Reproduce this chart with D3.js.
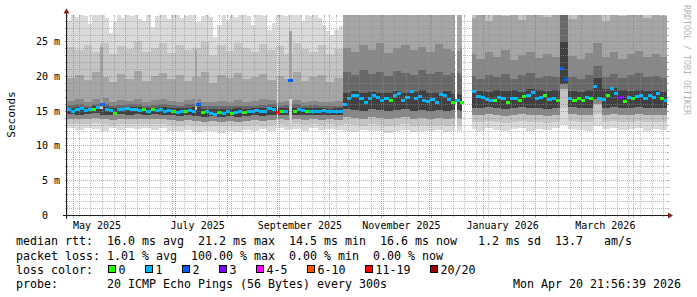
<!DOCTYPE html>
<html><head><meta charset="utf-8">
<script src="https://cdn.jsdelivr.net/npm/d3@7"></script>
<style>
html,body{margin:0;padding:0;background:#fff;}
svg{display:block;}
text{font-family:"DejaVu Sans Mono",monospace;white-space:pre;}
</style></head><body>
<svg id="chart" width="697" height="297"></svg>
<script>
// ---------------- data ----------------
const timeStart = "2025-04-26T19:30:00Z";
const timeEnd = "2026-04-20T22:00:00Z";
const yMax = 28.9;
const yTicks = [0, 5, 10, 15, 20, 25];
const yTickLabels = ["0  ", "5 m", "10 m", "15 m", "20 m", "25 m"];
const xLabels = ["May 2025", "July 2025", "September 2025", "November 2025", "January 2026", "March 2026"];
const xLabelDates = ["2025-05-14T18:00:00Z", "2025-07-14T00:00:00Z", "2025-09-13T06:00:00Z", "2025-11-13T00:00:00Z", "2026-01-12T12:00:00Z", "2026-03-15T00:00:00Z"];

// median rtt (ms), one value per 60 h
const medianStepHours = 60;
const median = [
15.3,15.0,15.2,15.4,15.1,15.3,15.2,15.5,15.9,15.3,
15.1,14.6,15.2,15.3,15.4,15.2,15.3,15.1,15.2,15.0,
15.2,15.1,15.2,15.0,15.1,15.0,14.8,15.0,14.9,15.1,
15.0,15.9,14.8,14.9,14.7,14.5,14.8,14.7,14.9,14.6,
14.8,14.9,14.8,15.0,14.9,15.1,14.9,15.0,15.4,15.3,
14.8,15.0,14.9,19.5,15.0,15.2,15.1,14.9,15.0,14.9,
15.0,15.1,15.0,14.9,15.0,14.9,15.9,16.8,17.2,17.3,
16.8,16.2,16.9,17.2,17.0,16.5,16.9,16.5,17.2,17.5,
16.6,17.0,17.9,16.9,17.1,16.5,16.4,16.7,16.3,17.4,
17.2,16.7,16.2,16.6,16.2,null,null,17.9,17.1,17.0,
16.7,16.5,16.6,17.0,16.8,16.2,16.9,16.8,16.6,17.1,
17.2,17.7,16.9,17.0,17.2,16.7,16.8,16.6,21.2,19.6,
16.8,16.5,16.9,16.6,17.0,16.8,18.5,16.9,16.7,17.3,
18.3,17.6,17.0,16.4,17.0,16.9,17.1,17.2,16.9,17.2,
17.0,17.6,16.8,16.6];
// lost pings (of 20) for each median value
const lossCount = [
1,1,1,1,1,1,0,1,2,1,
1,0,1,1,1,1,1,1,0,1,
0,1,1,1,1,0,1,1,0,1,
1,2,0,1,1,1,0,1,1,0,
1,1,0,1,1,1,1,1,1,1,
12,0,1,2,0,1,1,0,1,1,
1,1,1,1,1,1,1,1,1,1,
1,1,1,1,1,1,1,0,1,1,
1,1,1,1,1,1,1,1,1,1,
1,1,0,1,0,null,null,1,1,1,
1,1,0,1,1,0,1,1,0,0,
1,1,1,1,0,1,1,0,2,2,
1,0,0,0,1,0,1,1,1,0,
1,1,3,0,1,0,1,1,1,1,
1,1,0,1];

// slowest ping (ms), one value per 60 h
const smokeMax = [
28.2,29.2,28.6,29.2,28.8,27.6,29.2,28.9,29.2,28.5,
26.3,27.9,29.2,28.4,29.2,28.8,29.2,28.3,28.1,29.2,
27.2,28.7,29.2,28.9,28.3,29.2,29.2,28.4,28.8,29.2,
29.2,27.9,28.8,29.2,28.6,25.7,27.4,29.2,28.2,29.2,
28.6,29.2,29.2,28.7,27.5,28.9,29.2,28.8,26.7,27.8,
29.2,29.2,28.7,29.2,28.9,29.2,28.1,29.2,28.8,29.2,
28.5,27.4,26.6,26.0,26.8,27.3,
29.5,29.5,29.5,29.5,29.5,29.5,29.5,29.5,29.5,29.5,29.5,29.5,29.5,29.5,29.5,
29.5,29.5,29.5,29.5,29.5,29.5,29.5,29.5,29.5,29.5,29.5,29.5,29.5,29.5,
29.5,29.5,29.5,29.5,29.5,29.5,29.5,29.5,29.5,29.5,29.5,29.5,29.5,29.5,29.5,29.5,29.5,
29.5,29.5,29.5,29.5,29.5,29.5,29.5,29.5,29.5,29.5,29.5,29.5,29.5,29.5,29.5,29.5,
29.5,29.5,29.5,29.5,29.5,29.5,29.5,29.5,29.5,29.5,29.5,29.5,29.5,29.5,29.5,29.5];

// other ranked ping rtts (ms), one value per 120 h
const smokeStepHours = 120;
const smokeP18 = [
24.3,23.8,24.6,23.5,24.9,23.2,24.4,24.0,25.2,23.6,24.1,24.8,23.4,24.6,23.9,24.2,25.0,23.1,24.5,23.7,24.9,24.1,23.5,24.7,23.9,24.4,23.3,24.8,24.0,23.6,24.5,23.2,24.0,
29.5,29.5,29.5,29.5,29.5,29.5,29.5,29.5,29.5,29.5,29.5,29.5,29.5,29.5,29.5,
29.5,29.5,29.5,29.5,29.5,29.5,29.5,29.5,29.5,29.5,29.5,29.5,29.5,29.5,29.5,29.5,29.5,29.5,29.5,29.5,29.5,29.5,29.5,29.5];
const smokeP16 = [
19.8,20.3,19.5,20.6,19.9,19.2,20.4,19.7,20.8,19.4,20.1,20.5,19.6,20.2,19.3,20.0,20.7,19.1,20.3,19.8,20.5,19.6,19.9,20.4,19.5,20.1,19.7,20.6,19.4,20.0,20.3,19.2,19.8,
29.5,29.5,29.5,29.5,29.5,29.5,29.5,29.5,29.5,29.5,29.5,29.5,29.5,29.5,29.5,
28.4,29.5,28.0,29.5,28.8,29.5,28.2,29.5,29.5,28.6,29.5,29.5,28.3,29.5,28.9,29.5,28.1,29.5,28.7,29.5,29.5,28.4,29.5,28.8];
const smokeP14 = [
16.5,16.7,16.4,16.8,16.9,16.3,16.6,16.5,16.8,16.4,16.6,16.7,16.5,16.4,16.6,16.8,16.3,16.4,16.5,16.3,16.6,16.4,16.5,16.7,16.6,16.4,16.5,16.6,16.4,16.5,16.3,16.4,16.5,
24.2,23.6,24.5,23.9,24.8,23.4,24.1,24.6,23.8,24.3,23.5,24.7,24.0,23.7,24.2,
23.2,22.6,23.5,22.9,23.8,22.4,23.1,23.6,22.7,23.3,22.8,29.5,23.0,22.5,23.4,24.8,22.9,23.5,22.6,23.2,23.7,22.8,23.3,22.9];
const smokeP13 = [
15.9,16.0,15.8,16.1,16.0,15.8,15.9,16.0,16.1,15.8,15.9,16.0,15.9,15.8,16.0,16.1,15.7,15.7,15.8,15.7,15.8,15.7,15.8,15.9,16.0,15.8,15.9,16.0,15.8,15.9,15.8,15.7,15.8,
20.6,20.2,20.9,20.4,20.7,20.1,20.8,20.5,20.3,20.9,20.4,20.6,20.2,20.5,20.3,
20.1,19.7,20.3,19.9,20.4,19.6,20.2,20.5,19.8,20.1,20.0,29.5,19.9,19.7,20.3,21.5,20.0,20.4,19.8,20.2,20.5,19.9,20.1,19.8];
const smokeP12 = [
15.5,15.6,15.5,15.7,15.6,15.4,15.5,15.6,15.6,15.5,15.5,15.6,15.4,15.4,15.5,15.6,15.3,15.3,15.3,15.3,15.4,15.3,15.4,15.5,15.6,15.4,15.5,15.5,15.4,15.5,15.4,15.3,15.4,
17.7,17.9,17.6,17.8,17.6,17.7,17.9,17.6,17.8,18.0,17.7,17.6,17.9,17.5,17.4,
18.0,17.9,17.8,18.1,17.9,18.0,17.8,18.2,18.0,17.9,18.1,25.0,17.9,17.8,18.0,19.8,18.2,18.3,18.0,17.9,18.1,17.9,18.0,17.8];
const smokeP8 = [
14.6,14.5,14.6,14.7,14.5,14.4,14.6,14.5,14.6,14.5,14.6,14.5,14.4,14.3,14.4,14.3,14.2,14.3,14.2,14.3,14.2,14.3,14.4,14.3,14.4,14.5,14.4,14.5,14.4,14.5,14.4,14.5,14.4,
15.3,15.2,15.1,15.3,15.2,15.0,15.2,15.3,15.1,15.2,15.0,15.2,15.1,15.2,15.1,
15.5,15.4,15.6,15.5,15.3,15.5,15.6,15.4,15.5,15.3,15.5,19.0,15.6,15.5,15.4,16.8,15.5,15.6,15.4,15.5,15.6,15.4,15.5,15.5];
const smokeP5 = [
13.9,13.8,13.9,14.0,13.8,13.7,13.9,13.8,13.9,13.8,13.9,13.8,13.7,13.6,13.7,13.6,13.5,13.6,13.5,13.6,13.5,13.6,13.7,13.6,13.7,13.8,13.7,13.8,13.7,13.8,13.7,13.8,13.7,
14.1,14.0,13.9,14.1,14.0,13.8,14.0,14.1,13.9,14.0,13.8,14.0,13.9,14.0,13.9,
14.5,14.4,14.6,14.5,14.3,14.5,14.6,14.4,14.5,14.3,14.5,18.2,14.6,14.5,14.4,16.0,14.5,14.6,14.4,14.5,14.6,14.4,14.5,14.5];
const smokeP3 = [
13.2,13.1,13.2,13.3,13.1,13.0,13.2,13.1,13.2,13.1,13.2,13.1,13.0,12.9,13.0,12.9,12.8,12.9,12.8,12.9,12.8,12.9,13.0,12.9,13.0,13.1,13.0,13.1,13.0,13.1,13.0,13.1,13.0,
13.1,13.0,12.9,13.1,13.0,12.8,13.0,13.1,12.9,13.0,12.8,13.0,12.9,13.0,12.9,
13.5,13.4,13.6,13.5,13.3,13.5,13.6,13.4,13.5,13.3,13.5,15.5,13.6,13.5,13.4,14.6,13.5,13.6,13.4,13.5,13.6,13.4,13.5,13.5];
const smokeMin = [
12.5,12.3,12.6,12.4,12.2,12.5,12.3,12.6,12.4,12.5,12.3,12.6,12.2,12.1,12.3,12.0,12.2,12.1,11.9,12.2,12.0,12.3,12.1,12.4,12.2,12.5,12.3,12.4,12.2,12.5,12.3,12.4,12.3,
12.2,12.0,12.3,12.1,12.2,11.9,12.1,12.3,12.0,12.2,12.1,12.3,12.0,12.2,12.1,
12.4,12.2,12.5,12.3,12.1,12.4,12.5,12.2,12.4,12.3,12.5,13.0,12.4,12.3,12.2,12.8,12.4,12.5,12.3,12.4,12.5,12.2,12.4,12.3];

// short latency spikes
const spikeStart = ["2025-05-17T00:00:00Z", "2025-07-12T12:00:00Z", "2025-09-07T00:00:00Z"];
const spikeEnd   = ["2025-05-18T00:00:00Z", "2025-07-13T12:00:00Z", "2025-09-08T06:00:00Z"];
const spikeMin = [15.3, 15.2, 12.8];
const spikeLow = [15.6, 15.6, 16.8];
const spikeMax = [24.3, 23.9, 26.6];

// periods without data
const outageStart = ["2025-08-30T12:00:00Z", "2025-12-15T06:00:00Z", "2025-12-19T12:00:00Z"];
const outageEnd   = ["2025-08-31T00:00:00Z", "2025-12-16T00:00:00Z", "2025-12-25T00:00:00Z"];

const lossLabels = ["0", "1", "2", "3", "4-5", "6-10", "11-19", "20/20"];
const lossColors = ["#26ff00", "#00b8ff", "#0059ff", "#7e00ff", "#ff00ff", "#ff5500", "#ff0000", "#a10000"];

const statLines = [
  "median rtt:  16.0 ms avg  21.2 ms max  14.5 ms min  16.6 ms now   1.2 ms sd  13.7   am/s",
  "packet loss: 1.01 % avg  100.00 % max  0.00 % min  0.00 % now"
];
const lossTitle = "loss color:";
const probeLine = "probe:       20 ICMP Echo Pings (56 Bytes) every 300s";
const stampText = "Mon Apr 20 21:56:39 2026";
const yTitle = "Seconds";
const watermark = "RRDTOOL / TOBI OETIKER";

// ---------------- drawing ----------------
const t0 = new Date(timeStart), t1 = new Date(timeEnd);
const X0 = 67, X1 = 667, Y0 = 215, Y1 = 15;
const x = d3.scaleUtc().domain([t0, t1]).range([X0, X1]);
const y = d3.scaleLinear().domain([0, yMax]).range([Y0, Y1]);

const svg = d3.select("#chart");
svg.append("rect").attr("width", 697).attr("height", 297).attr("fill", "#fff");
svg.append("defs").append("clipPath").attr("id", "cv")
  .append("rect").attr("x", X0).attr("y", Y1).attr("width", X1 - X0).attr("height", Y0 - Y1);
const plot = svg.append("g").attr("clip-path", "url(#cv)").attr("shape-rendering", "crispEdges");

const area = d3.area().curve(d3.curveStepAfter)
  .x(d => x(d.t)).y0(d => y(d.lo)).y1(d => y(d.hi));
function drawBand(loArr, loStep, hiArr, hiStep, color) {
  // sample both series on the finer of the two time grids
  const step = Math.min(loStep, hiStep);
  const end = Math.min(loArr.length * loStep, hiArr.length * hiStep);
  const pts = [];
  for (let h = 0; h < end; h += step) {
    pts.push({t: d3.utcHour.offset(t0, h), lo: loArr[Math.floor(h / loStep)], hi: hiArr[Math.floor(h / hiStep)]});
  }
  const last = pts[pts.length - 1];
  pts.push({t: d3.utcHour.offset(t0, end), lo: last.lo, hi: last.hi});
  plot.append("path").attr("d", area(pts)).attr("fill", color);
}
drawBand(smokeMin, smokeStepHours, smokeMax, medianStepHours, "#dadada");
drawBand(smokeP3, smokeStepHours, smokeP18, smokeStepHours, "#c4c4c4");
drawBand(smokeP5, smokeStepHours, smokeP16, smokeStepHours, "#a6a6a6");
drawBand(smokeP5, smokeStepHours, smokeP14, smokeStepHours, "#888888");
drawBand(smokeP8, smokeStepHours, smokeP13, smokeStepHours, "#686868");
drawBand(smokeP8, smokeStepHours, smokeP12, smokeStepHours, "#404040");

// spikes
spikeStart.forEach((s, i) => {
  const xa = Math.floor(x(new Date(s))), xb = Math.ceil(x(new Date(spikeEnd[i])));
  plot.append("rect").attr("x", xa).attr("width", xb - xa)
    .attr("y", y(spikeMax[i])).attr("height", y(spikeMin[i]) - y(spikeMax[i])).attr("fill", "#d6d6d6");
  plot.append("rect").attr("x", xa).attr("width", xb - xa)
    .attr("y", y(spikeMax[i])).attr("height", y(spikeLow[i]) - y(spikeMax[i])).attr("fill", "#a2a2a2");
});

// outages
outageStart.forEach((s, i) => {
  const xa = Math.round(x(new Date(s))), xb = Math.max(xa + 1, Math.round(x(new Date(outageEnd[i]))));
  plot.append("rect").attr("x", xa).attr("width", xb - xa).attr("y", Y1).attr("height", Y0 - Y1).attr("fill", "#fff");
});

// median
function lossColor(c) {
  if (c <= 0) return lossColors[0];
  if (c === 1) return lossColors[1];
  if (c === 2) return lossColors[2];
  if (c === 3) return lossColors[3];
  if (c <= 5) return lossColors[4];
  if (c <= 10) return lossColors[5];
  if (c <= 19) return lossColors[6];
  return lossColors[7];
}
const medDates = d3.range(median.length + 1).map(i => d3.utcHour.offset(t0, i * medianStepHours));
median.forEach((m, i) => {
  if (m == null || lossCount[i] == null) return;
  const xa = x(medDates[i]), xb = x(medDates[i + 1]);
  plot.append("rect").attr("x", xa).attr("width", xb - xa)
    .attr("y", y(m) - 1.5).attr("height", 3).attr("fill", lossColor(lossCount[i]));
});

// grid
const gMinor = "rgba(143,143,143,0.6)", gMajor = "rgba(222,79,79,0.6)";
const grid = svg.append("g").attr("shape-rendering", "crispEdges");
const majorX = d3.utcMonth.range(t0, t1);
const minorX = d3.utcSunday.range(t0, t1).filter(t => !majorX.some(m => +m === +t));
function vline(t, col, tick) {
  const px = Math.floor(x(t)) + 0.5;
  grid.append("line").attr("x1", px).attr("x2", px).attr("y1", Y1).attr("y2", Y0)
    .attr("stroke", col).attr("stroke-dasharray", "1,1");
  grid.append("line").attr("x1", px).attr("x2", px).attr("y1", Y0).attr("y2", Y0 + tick).attr("stroke", col);
  grid.append("line").attr("x1", px).attr("x2", px).attr("y1", Y1).attr("y2", Y1 + 2).attr("stroke", col);
}
minorX.forEach(t => vline(t, gMinor, 2));
majorX.forEach(t => vline(t, gMajor, 3));
function hline(v, col) {
  const py = Math.floor(y(v)) + 0.5;
  grid.append("line").attr("x1", X0 - 2).attr("x2", X1 + 2).attr("y1", py).attr("y2", py)
    .attr("stroke", col).attr("stroke-dasharray", "1,1");
  grid.append("line").attr("x1", X0 - 2).attr("x2", X0).attr("y1", py).attr("y2", py).attr("stroke", col);
  grid.append("line").attr("x1", X1).attr("x2", X1 + 2).attr("y1", py).attr("y2", py).attr("stroke", col);
}
d3.range(1, Math.floor(yMax) + 1).filter(v => !yTicks.includes(v)).forEach(v => hline(v, gMinor));
yTicks.filter(v => v > 0).forEach(v => hline(v, gMajor));

// axes
const axisCol = "#1f1f1f", arrowCol = "#801f1f";
svg.append("line").attr("x1", X0 - 4).attr("x2", X1 + 2).attr("y1", Y0 + 0.5).attr("y2", Y0 + 0.5)
  .attr("stroke", axisCol).attr("shape-rendering", "crispEdges");
svg.append("line").attr("x1", X0 - 0.5).attr("x2", X0 - 0.5).attr("y1", Y0 + 4).attr("y2", Y1 - 2)
  .attr("stroke", axisCol).attr("shape-rendering", "crispEdges");
svg.append("path").attr("d", `M${X1 + 1},${Y0 - 2.5}L${X1 + 6},${Y0 + 0.5}L${X1 + 1},${Y0 + 3.5}Z`).attr("fill", arrowCol);
svg.append("path").attr("d", `M${X0 - 3.5},${Y1 - 1.5}L${X0 - 0.5},${Y1 - 6.5}L${X0 + 2.5},${Y1 - 1.5}Z`).attr("fill", arrowCol);

// axis labels
const lab = svg.append("g").attr("font-size", "10px").attr("fill", "#000");
yTicks.forEach((v, i) => {
  const s = yTickLabels[i];
  lab.append("text").attr("x", 60 - s.length * 6.02).attr("y", Math.floor(y(v)) + 4).text(s);
});
xLabels.forEach((s, i) => {
  lab.append("text").attr("x", x(new Date(xLabelDates[i]))).attr("y", 228.5)
    .attr("text-anchor", "middle").text(s);
});
svg.append("text").attr("transform", "translate(15,114.5) rotate(-90)")
  .attr("text-anchor", "middle").attr("font-size", "11px").attr("fill", "#000").text(yTitle);
svg.append("text").attr("transform", "translate(684,5) rotate(90)")
  .attr("font-size", "8.3px").attr("fill", "#b4b4b4").text(watermark);

// legend
const fs = 11.63, cw = fs * 0.602, lx = 16;
const leg = svg.append("g").attr("font-size", fs + "px").attr("fill", "#000");
leg.append("text").attr("x", lx).attr("y", 245).text(statLines[0]);
leg.append("text").attr("x", lx).attr("y", 259.5).text(statLines[1]);
leg.append("text").attr("x", lx).attr("y", 274).text(lossTitle);
let bx = 108.3;
lossLabels.forEach((s, i) => {
  leg.append("rect").attr("x", bx + 0.5).attr("y", 265.5).attr("width", 7).attr("height", 7)
    .attr("fill", lossColors[i]).attr("stroke", "#000").attr("stroke-width", 1).attr("shape-rendering", "crispEdges");
  leg.append("text").attr("x", bx + 10.3).attr("y", 274).text(s);
  bx = bx + 30 + s.length * cw;
});
leg.append("text").attr("x", lx).attr("y", 288).text(probeLine);
leg.append("text").attr("x", 681).attr("y", 288).attr("text-anchor", "end").text(stampText);
</script>
</body></html>
